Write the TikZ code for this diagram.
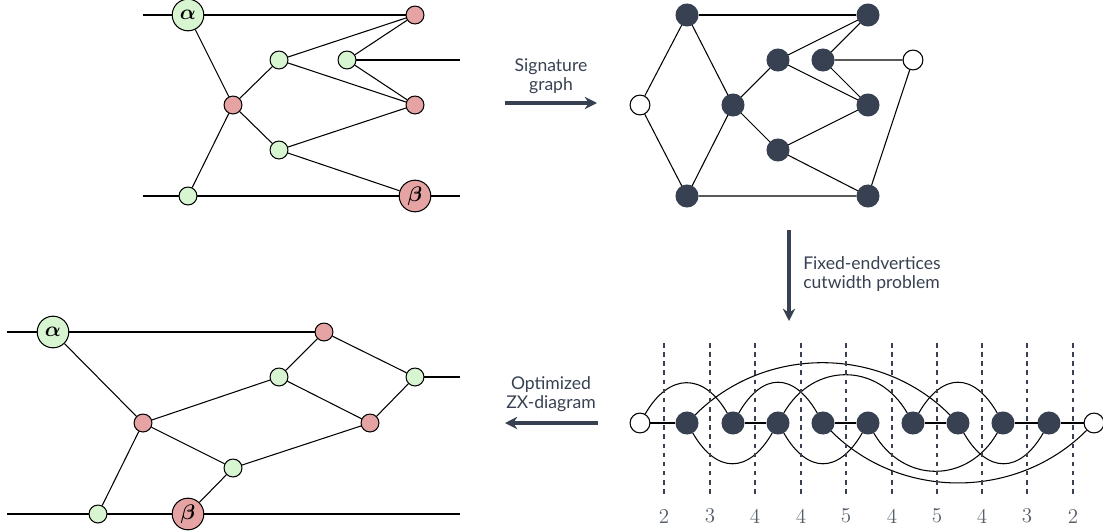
\documentclass[tikz,border=0pt]{standalone}
\usepackage{fontspec}
\usepackage{amsmath}
\newfontfamily\labelfont{Lato}
\usetikzlibrary{arrows.meta}
\definecolor{zxgreen}{HTML}{D8F5D2}
\definecolor{zxred}{HTML}{E6A3A3}
\definecolor{slate}{HTML}{374151}
\begin{document}
\begin{tikzpicture}
  [x=0.02cm,y=0.02cm,line width=0.6pt,
   every node/.style={shape=circle,draw,inner sep=0pt,line width=0.6pt},
   zg/.style={fill=zxgreen,minimum size=10.2pt},
   zr/.style={fill=zxred,minimum size=10.2pt},
   phase/.style={minimum size=18pt,font=\large},
   vx/.style={fill=slate,draw=slate,minimum size=12.5pt},
   bd/.style={fill=white,minimum size=11.3pt},
   txt/.style={draw=none,shape=rectangle,inner sep=1pt,text=slate,
     font=\labelfont\fontsize{10}{11}\selectfont},
   num/.style={draw=none,shape=rectangle,text=slate!85,font=\large},
   arr/.style={-{Stealth[length=7pt,width=7pt]},line width=2pt,slate},
   cut/.style={slate,line width=1.1pt,dash pattern=on 2.6pt off 2.6pt},
   arcup/.style={out=60,in=120,distance=#1},
   arcdn/.style={out=-60,in=-120,distance=#1}]
  \useasboundingbox (0,0) rectangle (1103,-531);
  % ZX-diagram
  \node[zg,phase] (a1) at (188,-15) {$\boldsymbol{\alpha}$};
  \node[zr] (r1) at (415,-15) {};
  \node[zg] (g1) at (279,-60) {};
  \node[zg] (g2) at (347,-60) {};
  \node[zr] (r2) at (233,-105) {};
  \node[zr] (r3) at (415,-105) {};
  \node[zg] (g3) at (279,-150) {};
  \node[zg] (g4) at (188,-196) {};
  \node[zr,phase] (b1) at (415,-196) {$\boldsymbol{\beta}$};
  \coordinate (w1) at (143,-15);
  \coordinate (w2) at (460,-60);
  \coordinate (w3) at (143,-196);
  \coordinate (w4) at (460,-196);
  \draw (w1) -- (a1) -- (r1);
  \draw (g2) -- (w2);
  \draw (w3) -- (g4) -- (b1) -- (w4);
  \draw (a1) -- (r2) -- (g4);
  \draw (r2) -- (g1) -- (r1) -- (g2) -- (r3) -- (g1);
  \draw (r2) -- (g3) -- (r3);
  \draw (g3) -- (b1);
  % signature graph
  \node[bd] (sI) at (640,-105) {};
  \node[vx] (sA) at (687,-15) {};
  \node[vx] (sB) at (687,-196) {};
  \node[vx] (sC) at (733,-105) {};
  \node[vx] (sD) at (778,-60) {};
  \node[vx] (sE) at (778,-150) {};
  \node[vx] (sF) at (823,-60) {};
  \node[vx] (sG) at (868,-15) {};
  \node[vx] (sH) at (868,-105) {};
  \node[vx] (sK) at (868,-196) {};
  \node[bd] (sO) at (913,-60) {};
  \draw (sA) -- (sG);
  \draw (sA) -- (sI) -- (sB) -- (sK) -- (sO) -- (sF);
  \draw (sA) -- (sC) -- (sB);
  \draw (sC) -- (sD) -- (sG) -- (sF) -- (sH) -- (sD);
  \draw (sC) -- (sE) -- (sH);
  \draw (sE) -- (sK);
  % linear layout
  \node[bd] (p0) at (640,-423) {};
  \node[vx] (p1) at (687,-423) {};
  \node[vx] (p2) at (733,-423) {};
  \node[vx] (p3) at (778,-423) {};
  \node[vx] (p4) at (823,-423) {};
  \node[vx] (p5) at (868,-423) {};
  \node[vx] (p6) at (913,-423) {};
  \node[vx] (p7) at (958,-423) {};
  \node[vx] (p8) at (1003,-423) {};
  \node[vx] (p9) at (1049,-423) {};
  \node[bd] (p10) at (1094,-423) {};
  \draw (p0) -- (p1);
  \draw (p2) -- (p3);
  \draw (p4) -- (p5);
  \draw (p6) -- (p7);
  \draw (p8) -- (p9) -- (p10);
  \draw (p0) to[arcup=27pt] (p2);
  \draw (p2) to[arcup=27pt] (p4);
  \draw (p6) to[arcup=27pt] (p8);
  \draw (p3) to[arcup=33.6pt] (p6);
  \draw (p1) to[out=45,in=135,distance=56pt] (p7);
  \draw (p1) to[arcdn=27pt] (p3);
  \draw (p7) to[arcdn=27pt] (p9);
  \draw (p3) to[arcdn=27pt] (p5);
  \draw (p5) to[arcdn=33.6pt] (p8);
  \draw (p4) to[out=-45,in=-135,distance=56pt] (p10);
  \foreach \x/\n [count=\i] in {664/2,710/3,755/4,801/4,846/5,892/4,937/5,982/4,1027/3,1073/2}
  {
    \coordinate (ct\i) at (\x,-343);
    \coordinate (cb\i) at (\x,-498);
    \draw[cut] (ct\i) -- (cb\i);
    \node[num] (n\i) at (\x,-516) {\n};
  }
  % arrows
  \coordinate (s1) at (505,-103);
  \coordinate (e1) at (597,-103);
  \draw[arr] (s1) -- (e1);
  \node[txt,align=center] (l1) at (551,-76) {Signature\\graph};
  \coordinate (s2) at (789,-230);
  \coordinate (e2) at (789,-321);
  \draw[arr] (s2) -- (e2);
  \node[txt,align=left,anchor=west] (l2) at (801,-274) {Fixed-endvertices\\cutwidth problem};
  \coordinate (s3) at (598,-423);
  \coordinate (e3) at (505,-423);
  \draw[arr] (s3) -- (e3);
  \node[txt,align=center] (l3) at (551,-394) {Optimized\\ZX-diagram};
  % optimized ZX-diagram
  \node[zg,phase] (a2) at (53,-332) {$\boldsymbol{\alpha}$};
  \node[zr] (r4) at (324,-332) {};
  \node[zg] (g5) at (279,-377) {};
  \node[zg] (g6) at (415,-377) {};
  \node[zr] (r5) at (143,-423) {};
  \node[zr] (r6) at (370,-423) {};
  \node[zg] (g7) at (233,-468) {};
  \node[zg] (g8) at (98,-514) {};
  \node[zr,phase] (b2) at (188,-514) {$\boldsymbol{\beta}$};
  \coordinate (w5) at (7,-332);
  \coordinate (w6) at (460,-377);
  \coordinate (w7) at (7,-514);
  \coordinate (w8) at (460,-514);
  \draw (w5) -- (a2) -- (r4);
  \draw (g6) -- (w6);
  \draw (w7) -- (g8) -- (b2) -- (w8);
  \draw (a2) -- (r5) -- (g8);
  \draw (r5) -- (g5) -- (r4) -- (g6) -- (r6) -- (g5);
  \draw (r5) -- (g7) -- (r6);
  \draw (g7) -- (b2);
\end{tikzpicture}
\end{document}
